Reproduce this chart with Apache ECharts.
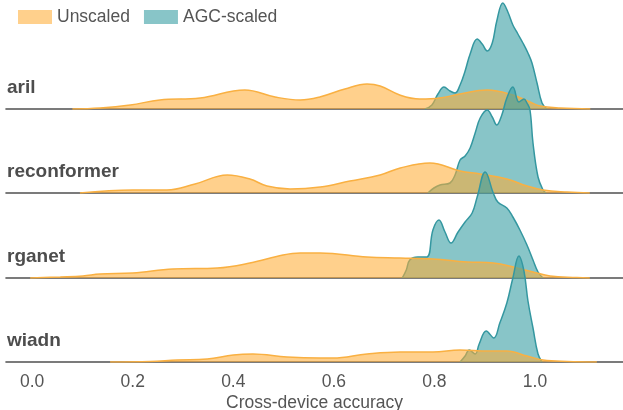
<!DOCTYPE html>
<html>
<head>
<meta charset="utf-8">
<script src="https://cdn.jsdelivr.net/npm/echarts@6/dist/echarts.min.js"></script>
<style>html,body{margin:0;padding:0;background:#fff}#c{width:623px;height:410px}</style>
</head>
<body>
<div id="c"></div>
<script>
// ---- data (density curves, scaled so each row's tallest peak = 106) ----
const rowNames = ['aril', 'reconformer', 'rganet', 'wiadn'];
const seriesNames = ['Unscaled', 'AGC-scaled'];
const tickValues = [0, 0.2, 0.4, 0.6, 0.8, 1.0];

const arilUnscaled = [[0.08,0],[0.135,1],[0.195,4],[0.254,9],[0.334,11],[0.423,19],[0.483,12],[0.533,9],[0.572,12],[0.622,20],[0.666,25],[0.692,23],[0.731,14],[0.771,10],[0.811,11],[0.851,15],[0.905,19],[0.956,14],[0.99,7],[1.01,3],[1.05,1],[1.11,0]];
const arilAgc = [[0.781,0],[0.795,4],[0.807,15],[0.819,22],[0.831,18],[0.841,16],[0.851,24],[0.861,38],[0.871,55],[0.885,70],[0.895,65],[0.905,58],[0.915,66],[0.924,88],[0.936,106],[0.946,97],[0.956,84],[0.966,75],[0.976,66],[0.986,56],[0.994,46],[1.004,26],[1.014,6],[1.024,0]];

const reconformerUnscaled = [[0.095,0],[0.2,3],[0.268,3],[0.324,9],[0.388,18],[0.433,14],[0.467,7],[0.513,4],[0.573,6],[0.632,12],[0.692,18],[0.732,25],[0.791,30],[0.851,22],[0.891,19],[0.944,14],[0.984,7],[1.016,3],[1.064,1],[1.109,0]];
const reconformerAgc = [[0.787,0],[0.799,5],[0.811,8],[0.831,10],[0.841,18],[0.851,33],[0.861,37],[0.871,45],[0.881,60],[0.891,75],[0.905,83],[0.915,76],[0.924,68],[0.934,78],[0.944,95],[0.956,106],[0.968,91],[0.978,94],[0.984,90],[0.99,83],[0.996,50],[1.006,16],[1.016,3],[1.022,0]];

const rganetUnscaled = [[-0.004,0],[0.056,1],[0.101,2],[0.135,4],[0.2,5],[0.28,9],[0.368,10],[0.433,15],[0.499,23],[0.533,25],[0.573,25],[0.666,21],[0.732,20],[0.797,19],[0.865,16],[0.917,15],[0.964,10],[0.996,6],[1.03,2],[1.083,0.5],[1.109,0]];
const rganetAgc = [[0.736,0],[0.744,8],[0.751,18],[0.767,21],[0.785,21],[0.797,48],[0.809,58],[0.821,46],[0.833,35],[0.847,46],[0.861,56],[0.875,65],[0.885,81],[0.901,106],[0.917,85],[0.926,76],[0.944,70],[0.956,61],[0.97,48],[0.984,33],[0.996,18],[1.006,6],[1.016,0]];

const wiadnUnscaled = [[0.155,0],[0.235,0.5],[0.288,2],[0.348,3],[0.4,7],[0.439,8],[0.507,5],[0.573,4],[0.598,4],[0.666,8],[0.732,10],[0.797,10],[0.851,12],[0.905,11],[0.944,11],[0.984,6],[1.016,2],[1.064,0.5],[1.123,0]];
const wiadnAgc = [[0.851,0],[0.861,6],[0.869,12],[0.881,8],[0.889,18],[0.903,31],[0.918,24],[0.93,39],[0.944,59],[0.956,84],[0.968,106],[0.978,91],[0.986,61],[0.996,34],[1.006,8],[1.014,0]];

const unscaledRows = [arilUnscaled, reconformerUnscaled, rganetUnscaled, wiadnUnscaled];
const agcRows = [arilAgc, reconformerAgc, rganetAgc, wiadnAgc];

// ---- layout / style ----
const W = 623, H = 410;
const baselines = [109, 193, 278, 362];
const rowHeight = 108;
const xMin = -0.052, xMax = 1.175;
const FONT = 'Liberation Sans, Arial, Helvetica, sans-serif';
const FS = 17.5;
const orange = { fill: '#FFAC35', line: '#F9B042', op: 0.57 };
const teal = { fill: '#399EA3', line: '#3497A0', op: 0.6 };

const grids = [], xAxes = [], yAxes = [], series = [], graphics = [];
rowNames.forEach((name, i) => {
  const last = i === rowNames.length - 1;
  grids.push({ left: 6, right: 0, bottom: H - baselines[i], height: rowHeight, containLabel: false, outerBoundsMode: 'none' });
  xAxes.push({
    type: 'value', gridIndex: i, min: xMin, max: xMax,
    axisLine: { show: true, onZero: false, lineStyle: { color: '#505050', width: 1.6 } },
    axisTick: { show: false }, splitLine: { show: false },
    axisLabel: {
      show: last, customValues: tickValues, margin: 11,
      formatter: v => v.toFixed(1), color: '#555', fontSize: FS, fontFamily: FONT
    },
    name: last ? 'Cross-device accuracy' : '', nameLocation: 'middle', nameGap: 32,
    nameTextStyle: { color: '#555', fontSize: FS, fontFamily: FONT }
  });
  yAxes.push({ type: 'value', gridIndex: i, min: 0, max: rowHeight, show: false });
  series.push({
    name: seriesNames[1], type: 'line', xAxisIndex: i, yAxisIndex: i,
    data: agcRows[i], smooth: 0.4, symbol: 'none', z: 2 + i * 2,
    lineStyle: { color: teal.line, width: 1.5 },
    itemStyle: { color: teal.fill },
    areaStyle: { color: teal.fill, opacity: teal.op, origin: 'start' }
  });
  series.push({
    name: seriesNames[0], type: 'line', xAxisIndex: i, yAxisIndex: i,
    data: unscaledRows[i], smooth: 0.4, symbol: 'none', z: 3 + i * 2,
    lineStyle: { color: orange.line, width: 1.5 },
    itemStyle: { color: orange.fill },
    areaStyle: { color: orange.fill, opacity: orange.op, origin: 'start' }
  });
  graphics.push({
    type: 'text', left: 7, top: baselines[i] - 31,
    style: { text: name, fill: '#4D4D4D', font: 'bold 19px ' + FONT }
  });
});

const chart = echarts.init(document.getElementById('c'), null, { renderer: 'canvas', width: W, height: H });
chart.setOption({
  animation: false,
  backgroundColor: '#fff',
  grid: grids, xAxis: xAxes, yAxis: yAxes, series: series,
  graphic: graphics,
  legend: {
    left: 18, top: 8, padding: 0, itemGap: 14, itemWidth: 34, itemHeight: 14,
    textStyle: { color: '#555', fontSize: FS, fontFamily: FONT },
    data: [
      { name: seriesNames[0], icon: 'rect', itemStyle: { color: '#FFD08C', borderWidth: 0 }, lineStyle: { width: 0 } },
      { name: seriesNames[1], icon: 'rect', itemStyle: { color: '#88C5C8', borderWidth: 0 }, lineStyle: { width: 0 } }
    ]
  }
});
</script>
</body>
</html>
